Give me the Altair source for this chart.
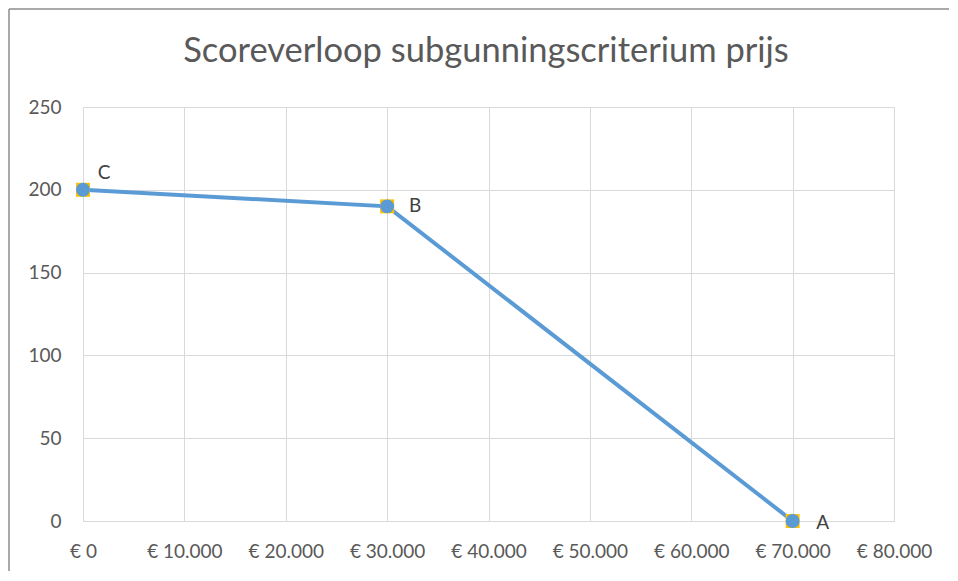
import altair as alt
import pandas as pd

labels = ["A", "B", "C"]
prices = [70000, 30000, 0]
scores = [0, 190, 200]
label_dx = [30, 28, 21]
label_dy = [2, 0, -17]
title_text = "Scoreverloop subgunningscriterium prijs"

df = pd.DataFrame({"label": labels, "prijs": prices, "score": scores,
                   "order": [3, 2, 1]})
one = pd.DataFrame({"t": [title_text]})

FONT = "Lato"
GRAY = "#595959"

x = alt.X("prijs:Q", scale=alt.Scale(domain=[0, 80000], nice=False),
          axis=alt.Axis(values=list(range(0, 80001, 10000)), title=None,
                        labelExpr="datum.value == 0 ? '€ 0' : '€ ' + format(datum.value/1000, 'd') + '.000'",
                        grid=True, gridColor="#d9d9d9", ticks=False, labelOverlap=False,
                        labelFlush=False,
                        domainColor="#d9d9d9", labelFontSize=19, labelColor=GRAY,
                        labelFont=FONT, labelPadding=21))
y = alt.Y("score:Q", scale=alt.Scale(domain=[0, 250], nice=False),
          axis=alt.Axis(values=list(range(0, 251, 50)), title=None, grid=True,
                        gridColor="#d9d9d9", ticks=False, domain=False,
                        labelFontSize=19, labelColor=GRAY, labelFont=FONT,
                        labelPadding=22))

base = alt.Chart(df)

squares = base.mark_square(size=196, color="#ffc000", opacity=1).encode(x=x, y=y)
line = base.mark_line(color="#5b9bd5", strokeWidth=4).encode(x=x, y=y, order="order:Q")
circles = base.mark_circle(size=195, color="#5b9bd5", opacity=1).encode(x=x, y=y)

text_layers = []
for i, lab in enumerate(labels):
    text_layers.append(
        alt.Chart(df[df.label == lab]).mark_text(
            font=FONT, fontSize=19, color="#404040", dx=label_dx[i], dy=label_dy[i]
        ).encode(x=x, y=y, text="label:N")
    )

title = alt.Chart(one).mark_text(font=FONT, fontSize=34.5, color=GRAY,
                                 baseline="middle", align="center").encode(
    x=alt.value(403), y=alt.value(-55), text="t:N")

border_top = alt.Chart(one).mark_rule(color="#8c8c8c", strokeWidth=1.5).encode(
    x=alt.value(-74), x2=alt.value(1200), y=alt.value(-98))
border_left = alt.Chart(one).mark_rule(color="#8c8c8c", strokeWidth=1.5).encode(
    x=alt.value(-74), y=alt.value(-98), y2=alt.value(600))

chart = alt.layer(border_top, border_left, title, line, squares, circles, *text_layers).properties(
    width=811, height=414,
    autosize=alt.AutoSizeParams(type="none"),
    padding={"left": 75, "top": 99, "right": 55, "bottom": 50},
).configure_view(stroke=None)

chart.save("out.html", embed_options={"renderer": "svg", "actions": False})
